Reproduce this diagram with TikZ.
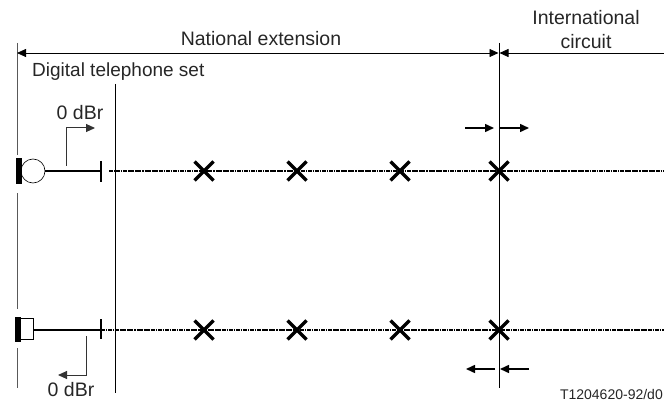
\documentclass[tikz,border=0pt]{standalone}
\usepackage{fontspec}
\setmainfont{Liberation Sans}
\usetikzlibrary{arrows.meta,shapes.misc}
\tikzset{
  tipmark/.tip={Triangle[length=9pt,width=8pt]},
  extent/.style={black, line width=0.8pt, -tipmark},
  limit/.style={black, line width=0.8pt},
  refpath/.style={black!80, line width=1pt, -tipmark},
  levelarrow/.style={black, line width=1.5pt, -tipmark},
  wire/.style={black, line width=1.6pt},
  trunk/.style={black, line width=1.4pt, dash pattern=on 4pt off 0.8pt on 1.5pt off 0.8pt},
  crossing/.style={cross out, draw=black, line width=3.2pt, minimum size=19pt, inner sep=0pt, outer sep=0pt},
  textlabel/.style={font=\fontsize{19.5pt}{22pt}\selectfont, inner sep=0pt, text=black!85}
}
\begin{document}
\begin{tikzpicture}[x=1pt, y=-1pt]
    \useasboundingbox (0,0) rectangle (664,401);
    % Limits
    \coordinate (left a) at (17,43);
    \coordinate (left b) at (17,155);
    \coordinate (left c) at (17,193);
    \coordinate (left d) at (17,309);
    \coordinate (left e) at (17,348);
    \coordinate (left f) at (17,388);
    \draw[limit, gray!70!black] (left a) -- (left b);
    \draw[limit, gray!70!black] (left c) -- (left d);
    \draw[limit, gray!70!black] (left e) -- (left f);
    \coordinate (set top) at (115.5,84);
    \coordinate (set bottom) at (115.5,393);
    \draw[limit] (set top) -- (set bottom);
    \coordinate (border top) at (499,43);
    \coordinate (border bottom) at (499,388);
    \draw[limit] (border top) -- (border bottom);

    % Extents
    \coordinate (nat left) at (17,53);
    \coordinate (nat right) at (498.5,53);
    \coordinate (int left) at (499.5,53);
    \coordinate (int right) at (664,53);
    \draw[extent, tipmark-tipmark] (nat left) -- (nat right);
    \draw[extent] (int right) -- (int left);
    \node[textlabel] (national) at (261,39) {National extension};
    \node[textlabel] (international) at (586,18) {International};
    \node[textlabel] (circuit) at (586,42) {circuit};
    \node[textlabel, anchor=west, font=\fontsize{19pt}{22pt}\selectfont] (digital) at (32,72) {Digital telephone set};

    % Send side
    \node[circle, draw=black, line width=0.6pt, minimum size=24pt, inner sep=0pt] (mic) at (33,171) {};
    \node[fill=black, minimum width=6pt, minimum height=25pt, inner sep=0pt] (mic bar) at (19,171) {};
    \coordinate (send tick) at (101,171);
    \coordinate (send tick a) at (101,161);
    \coordinate (send tick b) at (101,182);
    \coordinate (send in) at (109,171);
    \coordinate (send out) at (664,171);
    \draw[wire] (mic.east) -- (send tick);
    \draw[wire] (send tick a) -- (send tick b);
    \draw[trunk] (send in) -- (send out);
    \coordinate (send foot) at (66,166);
    \coordinate (send head) at (95,128);
    \draw[refpath] (send foot) |- (send head);
    \node[textlabel] (send level) at (80,113) {0 dBr};

    % Receive side
    \node[draw=black, line width=0.6pt, minimum width=13pt, minimum height=21pt, inner sep=0pt] (ear) at (27,329) {};
    \node[fill=black, minimum width=6pt, minimum height=25pt, inner sep=0pt] (ear bar) at (18,329.5) {};
    \coordinate (rec tick) at (101,330);
    \coordinate (rec tick a) at (101,319);
    \coordinate (rec tick b) at (101,339);
    \coordinate (rec out) at (664,330);
    \coordinate (ear out) at (34,330);
    \draw[wire] (ear out) -- (rec tick);
    \draw[wire] (rec tick a) -- (rec tick b);
    \draw[trunk] (rec tick) -- (rec out);
    \coordinate (rec foot) at (86,336);
    \coordinate (rec head) at (58,375);
    \draw[refpath] (rec foot) |- (rec head);
    \node[textlabel] (rec level) at (71,390) {0 dBr};

    % Crossings
    \foreach \x/\name in {204/a,297/b,400/c,499/d} {
        \node[crossing] (up \name) at (\x,171) {};
        \node[crossing] (down \name) at (\x,330) {};
    }

    % Level arrows
    \coordinate (up a1) at (465,128);
    \coordinate (up a2) at (494,128);
    \coordinate (up b1) at (499.5,128);
    \coordinate (up b2) at (529,128);
    \draw[levelarrow] (up a1) -- (up a2);
    \draw[levelarrow] (up b1) -- (up b2);
    \coordinate (down a1) at (495,369);
    \coordinate (down a2) at (466,369);
    \coordinate (down b1) at (529,369);
    \coordinate (down b2) at (500,369);
    \draw[levelarrow] (down a1) -- (down a2);
    \draw[levelarrow] (down b1) -- (down b2);

    \node[font=\fontsize{14pt}{16pt}\selectfont, inner sep=0pt, anchor=east, text=black!85] (code) at (663,394) {T1204620-92/d0};
\end{tikzpicture}
\end{document}
